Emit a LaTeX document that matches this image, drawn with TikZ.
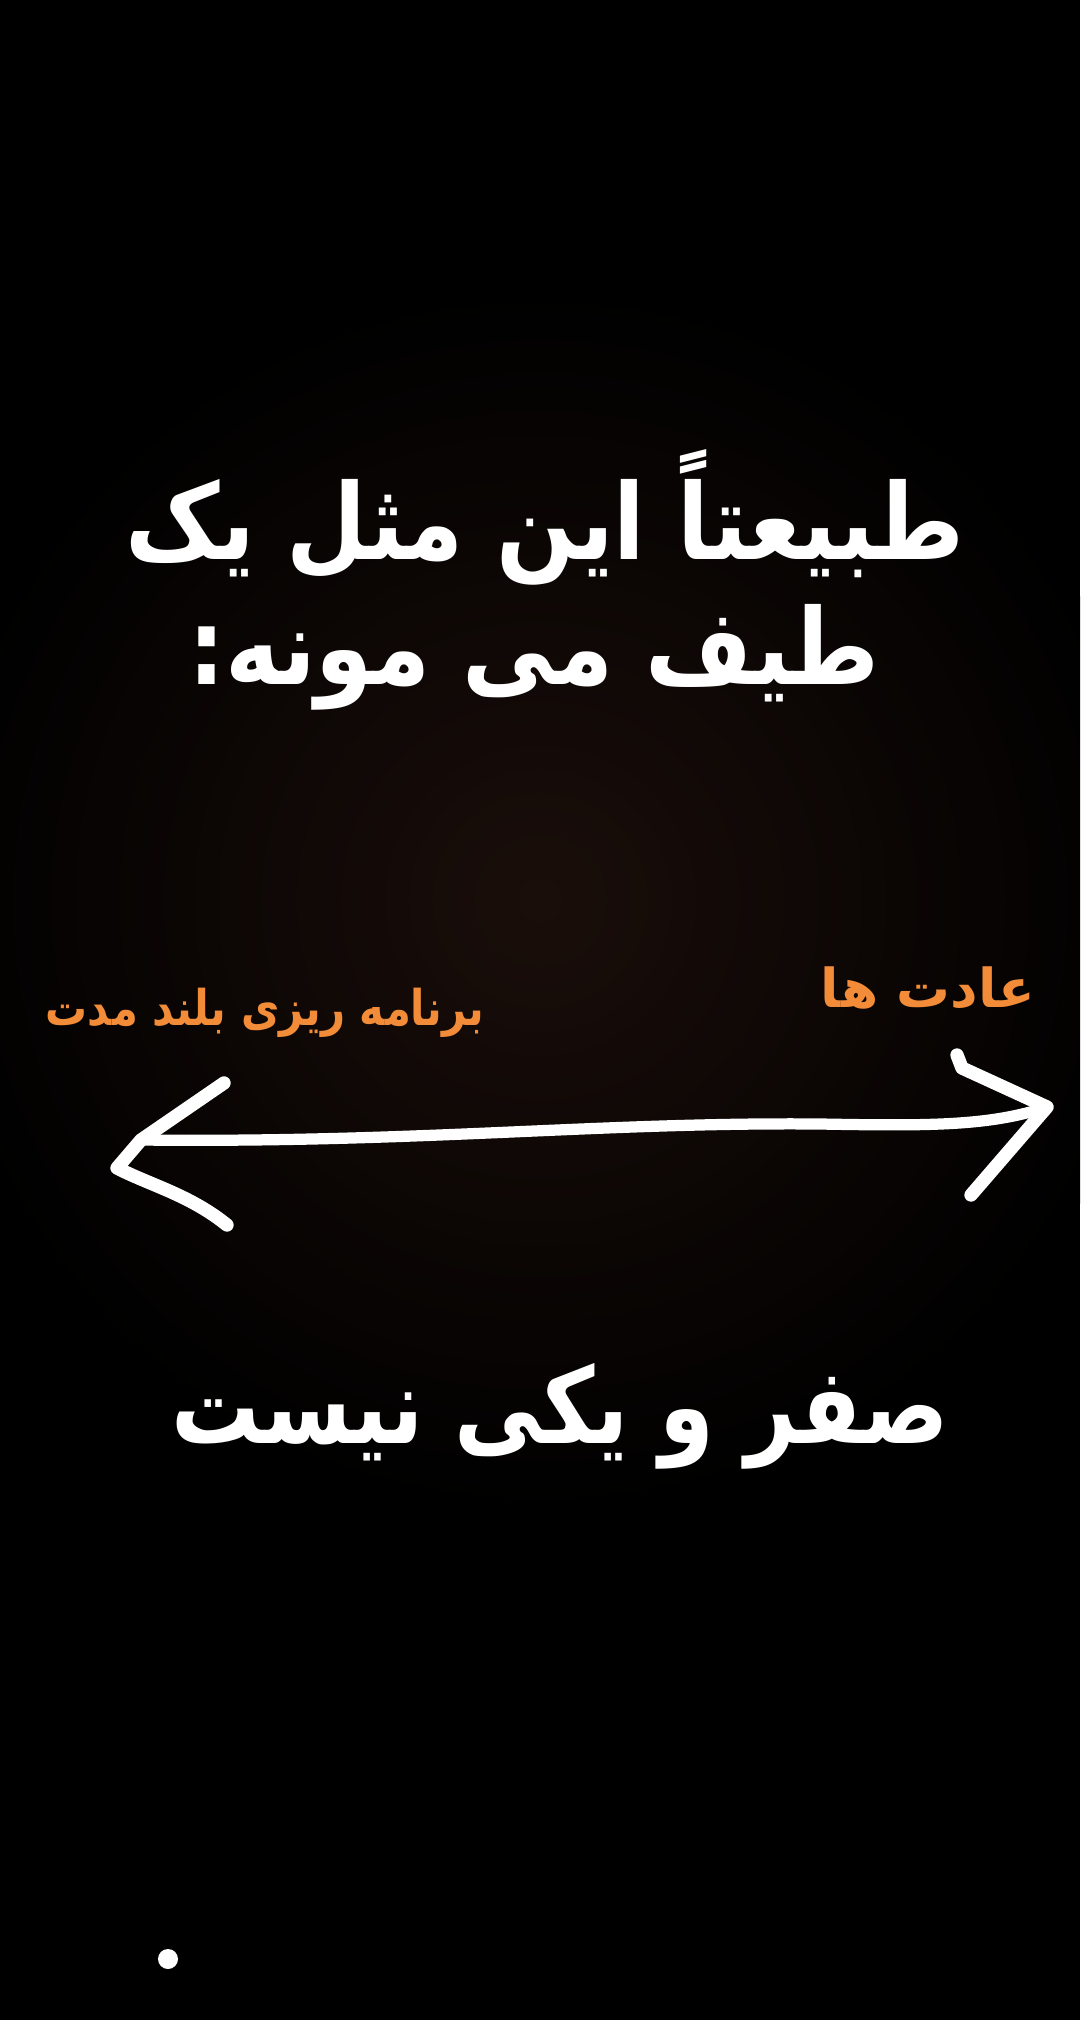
\documentclass[tikz,border=0pt]{standalone}
\usepackage{fontspec}
\newfontfamily\arabicfont[Script=Arabic]{DejaVu Sans}
\TeXXeTstate=1
\definecolor{labelorange}{HTML}{F28C38}
\definecolor{glow}{HTML}{1A0E0A}

\tikzset{
  bigtext/.style={text=white, inner sep=0pt, anchor=base, xscale=0.875,
    font=\arabicfont\bfseries\fontsize{30}{36}\selectfont},
  sidetext/.style={text=labelorange, inner sep=0pt, anchor=base,
    font=\arabicfont\bfseries\fontsize{14}{17}\selectfont},
  handline/.style={white, line width=3.2pt, line cap=round, line join=round}
}

\begin{document}
\begin{tikzpicture}[x=0.1mm,y=-0.1mm]
\def\W{1080}
\def\H{2020}
\useasboundingbox (0,0) rectangle (\W,\H);

% Background
\fill[black] (0,0) rectangle (\W,\H);
\begin{scope}
\clip (0,0) rectangle (\W,\H);
\shade[inner color=glow, outer color=black] (540,900) ellipse (620 and 620);
\end{scope}

% Title
\node[bigtext] (line1) at (545,560) {\beginR طبیعتاً این مثل یک\endR};
\node[bigtext] (line2) at (534,685) {\beginR طیف می مونه:\endR};

% Labels of the two ends
\node[sidetext, xscale=0.85] (longterm) at (265,1025) {\beginR برنامه ریزی بلند مدت\endR};
\node[sidetext, scale=1.09] (habits) at (928,1007) {\beginR عادت ها\endR};

% Hand drawn double arrow
\coordinate (L) at (141,1140);
\coordinate (Ltip) at (117,1168);
\coordinate (Lup) at (224,1083);
\coordinate (Ldown) at (227,1225);
\coordinate (Rtip) at (1047,1107);
\coordinate (Rup) at (957,1055);
\coordinate (Rdown) at (971,1195);

\draw[handline] (L) .. controls (420,1143) and (600,1122) .. (820,1124)
  .. controls (930,1126) and (990,1126) .. (Rtip);
\draw[handline, line width=3.8pt] (Lup) -- (L) -- (Ltip)
  .. controls (150,1185) and (190,1195) .. (Ldown);
\draw[handline, line width=3.8pt] (Rup) -- (962,1068) -- (Rtip) -- (Rdown);

% Bottom line
\node[bigtext, xscale=0.958] (notbinary) at (560,1443) {\beginR صفر و یکی نیست\endR};

% Small dot
\fill[white] (168,1959) circle (10);
\end{tikzpicture}
\end{document}
